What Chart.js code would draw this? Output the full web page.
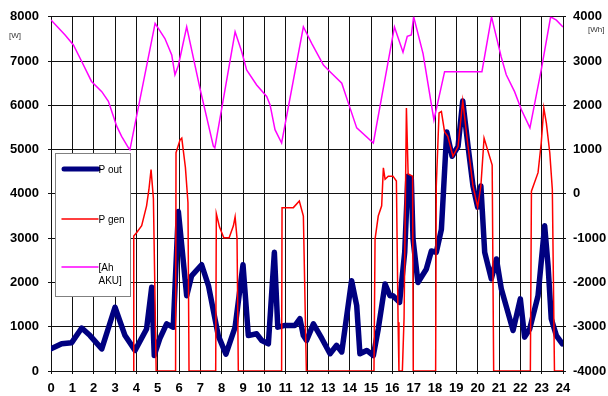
<!DOCTYPE html>
<html>
<head>
<meta charset="utf-8">
<title>P out / P gen / AKU</title>
<script src="https://cdn.jsdelivr.net/npm/chart.js@4.4.1/dist/chart.umd.min.js"></script>
<style>
  body { margin: 0; background: #fff; }
  #wrap { width: 608px; height: 396px; }
</style>
</head>
<body>
<div id="wrap"><canvas id="chart" width="608" height="396"></canvas></div>
<script>
// load power over the day [W]
const outHours = [0, 0.5, 0.97, 1.44, 1.83, 2.38, 3.0, 3.47, 3.94, 4.48, 4.72, 4.84, 5.1, 5.42, 5.73, 5.97,
  6.13, 6.36, 6.59, 7.06, 7.38, 7.84, 8.2, 8.63, 9.0, 9.25, 9.64, 9.88, 10.19, 10.47, 10.63, 10.97,
  11.44, 11.67, 11.83, 11.98, 12.3, 12.7, 13.08, 13.39, 13.63, 14.09, 14.33, 14.48, 14.8, 15.11, 15.34,
  15.66, 15.89, 16.03, 16.34, 16.58, 16.73, 16.89, 16.97, 17.2, 17.59, 17.83, 18.06, 18.3, 18.55, 18.8,
  19.08, 19.3, 19.55, 19.78, 20.0, 20.15, 20.33, 20.64, 20.88, 21.11, 21.66, 22.0, 22.2, 22.44, 22.83,
  23.14, 23.3, 23.45, 23.69, 23.97];
const outWatts = [500, 615, 640, 970, 800, 500, 1440, 800, 465, 950, 1890, 350, 730, 1065, 990, 3600,
  2830, 1700, 2150, 2400, 1930, 800, 380, 990, 2400, 800, 840, 690, 615, 2680, 990, 1030,
  1030, 1180, 800, 690, 1065, 730, 390, 580, 430, 2040, 1480, 390, 465, 350, 950,
  1965, 1700, 1700, 1550, 2680, 4400, 4330, 2980, 2000, 2300, 2710, 2680, 3200, 5400, 4850,
  5070, 6100, 5070, 4180, 3700, 4180, 2680, 2080, 2530, 1850, 915, 1630, 765, 950, 1700,
  3280, 2380, 1180, 800, 615];

// generator power [W]
const genHours = [3.85, 3.88, 4.02, 4.25, 4.48, 4.59, 4.69, 4.8, 4.93, 5.84, 5.86, 6.05, 6.13, 6.3, 6.42, 6.47,
  7.72, 7.75, 7.9, 8.1, 8.35, 8.55, 8.63, 8.72, 8.78, 10.81, 10.83, 11.36, 11.64, 11.83, 11.97,
  15.14, 15.19, 15.34, 15.5, 15.58, 15.66, 15.81, 16.03, 16.19, 16.27, 16.31, 16.47, 16.55, 16.66, 16.74,
  16.95, 16.98, 18.03, 18.06, 18.19, 18.3, 18.45, 18.6, 18.84, 19.08, 19.3, 19.55, 19.78, 20.0, 20.15,
  20.3, 20.68, 20.75, 22.47, 22.52, 22.83, 22.98, 23.1, 23.22, 23.38, 23.5, 23.6, 24];
const genWatts = [0, 3050, 3130, 3280, 3730, 4100, 4550, 3900, 0, 0, 4930, 5220, 5260, 4600, 3800, 0,
  0, 3550, 3250, 3010, 3010, 3280, 3480, 3000, 0, 0, 3690, 3690, 3840, 3500, 0,
  0, 2980, 3500, 3730, 4590, 4330, 4400, 4400, 4290, 1100, 0, 0, 1200, 5940, 4450,
  4400, 0, 0, 4180, 5830, 5860, 5400, 5300, 4850, 5070, 6100, 5070, 4180, 3700, 4180,
  5260, 4650, 0, 0, 4060, 4480, 5150, 5940, 5600, 4930, 4100, 0, 0];

// battery charge [Wh], right axis
const akuHours = [0, 0.66, 1.05, 1.44, 1.9, 2.38, 2.69, 3.08, 3.31, 3.63, 3.7, 4.88, 5.34, 5.66, 5.81, 5.97,
  6.36, 6.98, 7.61, 7.68, 8.63, 8.94, 9.17, 9.64, 10.11, 10.27, 10.5, 10.81, 11.83, 12.22, 12.77,
  13.08, 13.63, 13.94, 14.33, 15.11, 16.1, 16.5, 16.7, 16.89, 17.0, 17.44, 17.95, 18.45, 20.2, 20.65,
  21.1, 21.34, 21.73, 22.05, 22.45, 22.98, 23.42, 23.69, 24];
const akuWh = [3930, 3590, 3365, 2990, 2540, 2310, 2090, 1530, 1300, 1040, 1000, 3850, 3510, 3140, 2690, 2900,
  3775, 2390, 1080, 1040, 3660, 3210, 2800, 2460, 2200, 2010, 1450, 1150, 3775, 3400, 2910,
  2760, 2500, 2050, 1490, 1150, 3770, 3200, 3560, 3590, 4000, 3170, 1670, 2760, 2760, 4000,
  3100, 2690, 2310, 1900, 1490, 2800, 4000, 3925, 3770];

const hourTicks = [0, 24, 1];      // min, max, step
const wattTicks = [0, 8000, 1000];
const whTicks = [-4000, 4000, 1000];

const pts = (xs, ys) => xs.map((x, i) => ({ x: x, y: ys[i] }));

const NAVY = '#000080';
const RED = '#ff0000';
const MAGENTA = '#ff00ff';
const GRID = '#111';
const FONT = "'Liberation Sans', Arial, sans-serif";
const tickFont = { family: FONT, size: 13, weight: 'bold' };
const plain = v => String(v);

// boxed legend inside the plot + unit captions
const legendBox = {
  id: 'legendBox',
  afterDraw(chart) {
    const ctx = chart.ctx;
    ctx.save();
    ctx.fillStyle = '#fff';
    ctx.fillRect(55.5, 153.5, 75, 143);
    ctx.strokeStyle = '#808080';
    ctx.lineWidth = 1;
    ctx.strokeRect(55.5, 153.5, 75, 143);

    const rows = [
      { color: NAVY, width: 5, y: 169, text: ['P out'] },
      { color: RED, width: 1.5, y: 219, text: ['P gen'] },
      { color: MAGENTA, width: 1.5, y: 267, text: ['[Ah', 'AKU]'] }
    ];
    ctx.lineCap = 'round';
    rows.forEach(r => {
      ctx.strokeStyle = r.color;
      ctx.lineWidth = r.width;
      ctx.beginPath();
      ctx.moveTo(r.width > 2 ? 64 : 62, r.y);
      ctx.lineTo(98, r.y);
      ctx.stroke();
      ctx.fillStyle = '#000';
      ctx.font = '10px ' + FONT;
      ctx.textBaseline = 'middle';
      ctx.textAlign = 'left';
      r.text.forEach((t, i) => ctx.fillText(t, 98.5, r.y + 1 + i * 13));
    });

    ctx.fillStyle = '#333';
    ctx.font = '8px ' + FONT;
    ctx.fillText('[W]', 9, 36);
    ctx.fillText('[Wh]', 588, 30);
    ctx.restore();
  }
};

new Chart(document.getElementById('chart').getContext('2d'), {
  type: 'line',
  data: {
    datasets: [
      {
        label: 'P gen',
        data: pts(genHours, genWatts),
        borderColor: RED,
        borderWidth: 1.5,
        yAxisID: 'y',
        order: 0
      },
      {
        label: 'P out',
        data: pts(outHours, outWatts),
        borderColor: NAVY,
        borderWidth: 5.5,
        borderJoinStyle: 'round',
        borderCapStyle: 'round',
        yAxisID: 'y',
        order: 1
      },
      {
        label: '[Ah AKU]',
        data: pts(akuHours, akuWh),
        borderColor: MAGENTA,
        borderWidth: 1.5,
        yAxisID: 'y2',
        order: 2
      }
    ]
  },
  options: {
    responsive: false,
    animation: false,
    layout: { padding: { top: 15, left: 0, right: 0, bottom: 0 } },
    elements: { point: { radius: 0 }, line: { tension: 0 } },
    plugins: { legend: { display: false }, tooltip: { enabled: false } },
    scales: {
      x: {
        type: 'linear',
        min: hourTicks[0], max: hourTicks[1],
        afterFit: s => { s.height = 25; },
        grid: { color: GRID, tickLength: 3 },
        border: { color: GRID },
        ticks: {
          stepSize: hourTicks[2], autoSkip: false, maxRotation: 0, padding: 7,
          color: '#000', font: tickFont, callback: plain
        }
      },
      y: {
        position: 'left',
        min: wattTicks[0], max: wattTicks[1],
        afterFit: s => { s.width = 51; },
        grid: { color: GRID, tickLength: 3 },
        border: { color: GRID },
        ticks: {
          stepSize: wattTicks[2], padding: 9,
          color: '#000', font: tickFont, callback: plain
        }
      },
      y2: {
        position: 'right',
        min: whTicks[0], max: whTicks[1],
        afterFit: s => { s.width = 45; },
        grid: { drawOnChartArea: false, color: GRID, tickLength: 3 },
        border: { color: GRID },
        ticks: {
          stepSize: whTicks[2], padding: 7,
          color: '#000', font: tickFont, callback: plain
        }
      }
    }
  },
  plugins: [legendBox]
});
</script>
</body>
</html>
